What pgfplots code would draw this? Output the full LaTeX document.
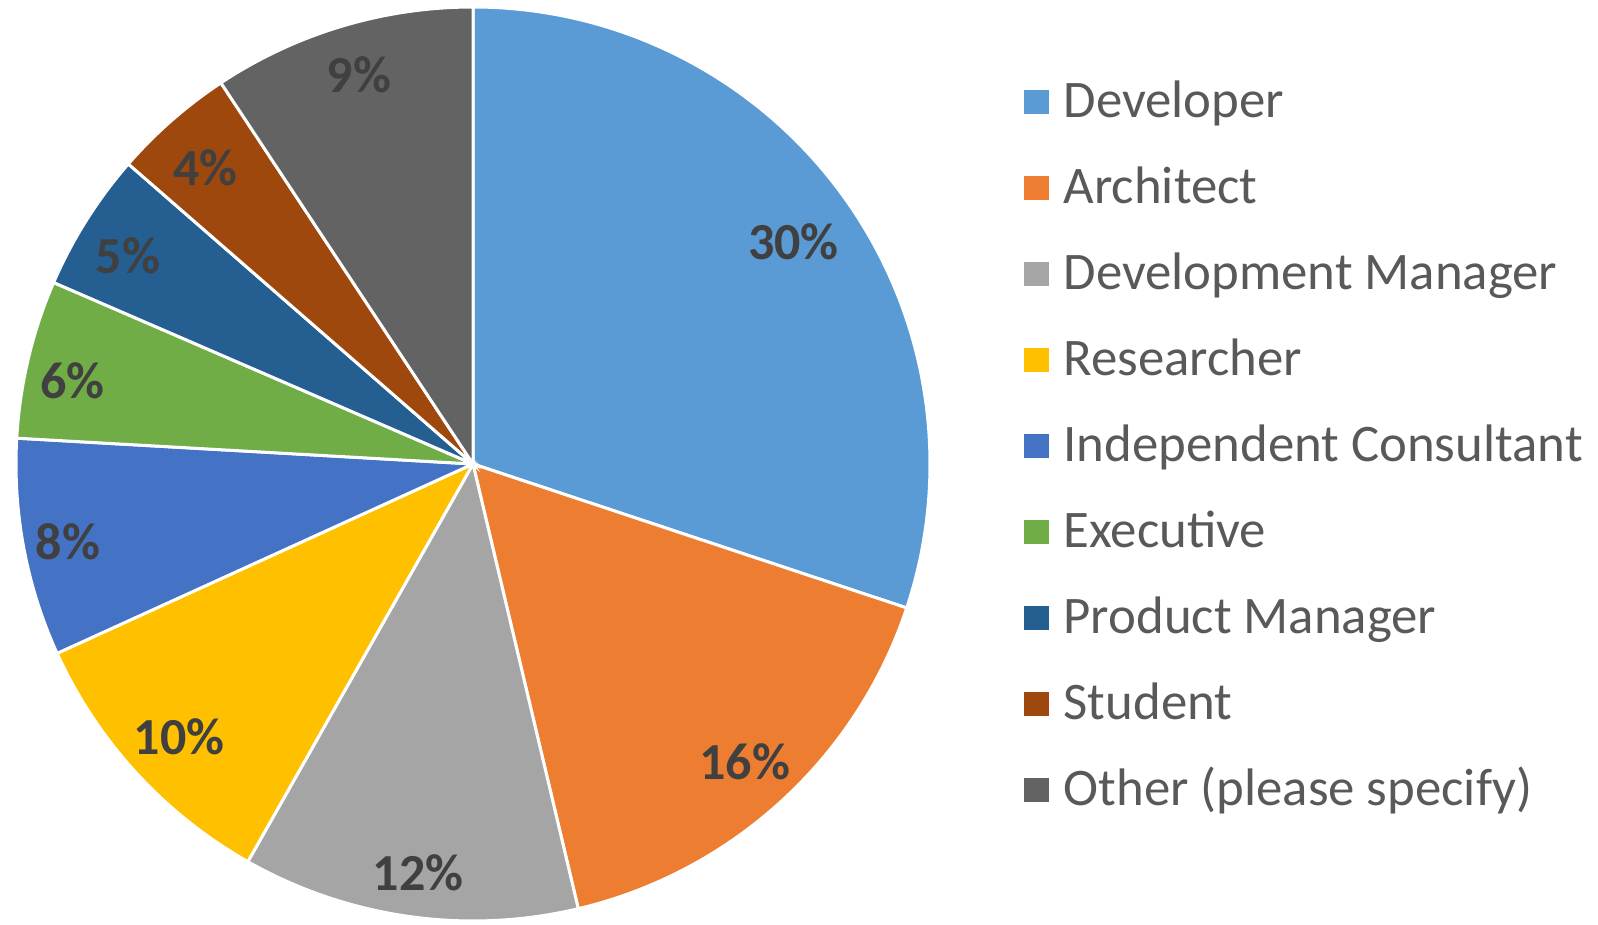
\documentclass[border=0pt]{standalone}
\usepackage{fontspec}
\setmainfont{Carlito}
\usepackage{pgfplots}
\pgfplotsset{compat=1.18}

\definecolor{cDev}{HTML}{5B9BD5}
\definecolor{cArch}{HTML}{ED7D31}
\definecolor{cDevMan}{HTML}{A5A5A5}
\definecolor{cRes}{HTML}{FFC000}
\definecolor{cInd}{HTML}{4472C4}
\definecolor{cExec}{HTML}{70AD47}
\definecolor{cProd}{HTML}{255E91}
\definecolor{cStud}{HTML}{9E480E}
\definecolor{cOther}{HTML}{636363}
\definecolor{labdark}{HTML}{404040}
\definecolor{leggray}{HTML}{595959}

\tikzset{lab/.style={font=\bfseries\fontsize{13}{15}\selectfont, text=labdark}}

% pie radius and label radius (1 axis unit = 0.25pt)
\newcommand\pieR{114.25pt}
\newcommand\labR{101pt}
\def\cum{0}
% \slice{colour}{value in percent}{label}{label nudge}
\newcommand\slice[4]{%
  \pgfmathsetmacro\aS{90-3.6*\cum}%
  \pgfmathsetmacro\cumnew{\cum+#2}%
  \pgfmathsetmacro\aE{90-3.6*\cumnew}%
  \pgfmathsetmacro\aM{(\aS+\aE)/2}%
  \edef\doit{%
    \noexpand\fill[#1, draw=white, line width=0.75pt] (axis cs:473,460) -- ++(\aS:\pieR)
      arc[start angle=\aS, end angle=\aE, radius=\pieR] -- cycle;
    \noexpand\path (axis cs:473,460) ++(\aM:\labR) node[lab, #4] {\unexpanded{#3}};%
  }%
  \doit
  \global\let\cum\cumnew}

\begin{document}
\begin{tikzpicture}
\begin{axis}[
  x=0.25pt, y=0.25pt,
  xmin=0, xmax=1598, ymin=0, ymax=924,
  hide axis, clip=false, scale only axis,
  legend cell align=left,
  legend style={at={(axis description cs:0.6402,0.9226)}, anchor=north west,
    draw=none, fill=none, inner sep=0pt, row sep=6.7pt, column sep=3.75pt,
    font=\fontsize{13.2}{15}\selectfont, text=leggray,
    nodes={inner sep=0pt, text height=11.3pt, text depth=3.5pt}},
  legend image code/.code={\fill[#1] (0pt,-3.1pt) rectangle (6.2pt,3.1pt);},
]
\slice{cDev}{30.1}{30\%}{xshift=-1.8pt, yshift=-3.5pt}
\slice{cArch}{16.2}{16\%}{xshift=-0.3pt}
\slice{cDevMan}{11.9}{12\%}{xshift=0.5pt, yshift=-2.2pt}
\slice{cRes}{10.0}{10\%}{xshift=1pt}
\slice{cInd}{7.7}{8\%}{xshift=-2pt, yshift=-0.8pt}
\slice{cExec}{5.6}{6\%}{xshift=-1.8pt, yshift=-2.5pt}
\slice{cProd}{4.9}{5\%}{xshift=-0.8pt, yshift=-1.8pt}
\slice{cStud}{4.3}{4\%}{xshift=-0.3pt, yshift=-1.8pt}
\slice{cOther}{9.3}{9\%}{xshift=0.6pt, yshift=0.5pt}

\addlegendimage{fill=cDev, draw=none}\addlegendentry{Developer}
\addlegendimage{fill=cArch, draw=none}\addlegendentry{Architect}
\addlegendimage{fill=cDevMan, draw=none}\addlegendentry{Development Manager}
\addlegendimage{fill=cRes, draw=none}\addlegendentry{Researcher}
\addlegendimage{fill=cInd, draw=none}\addlegendentry{Independent Consultant}
\addlegendimage{fill=cExec, draw=none}\addlegendentry{Executive}
\addlegendimage{fill=cProd, draw=none}\addlegendentry{Product Manager}
\addlegendimage{fill=cStud, draw=none}\addlegendentry{Student}
\addlegendimage{fill=cOther, draw=none}\addlegendentry{Other (please specify)}
\end{axis}
\pgfresetboundingbox
\useasboundingbox (0,0) rectangle (399.5pt,231pt);
\end{tikzpicture}
\end{document}
